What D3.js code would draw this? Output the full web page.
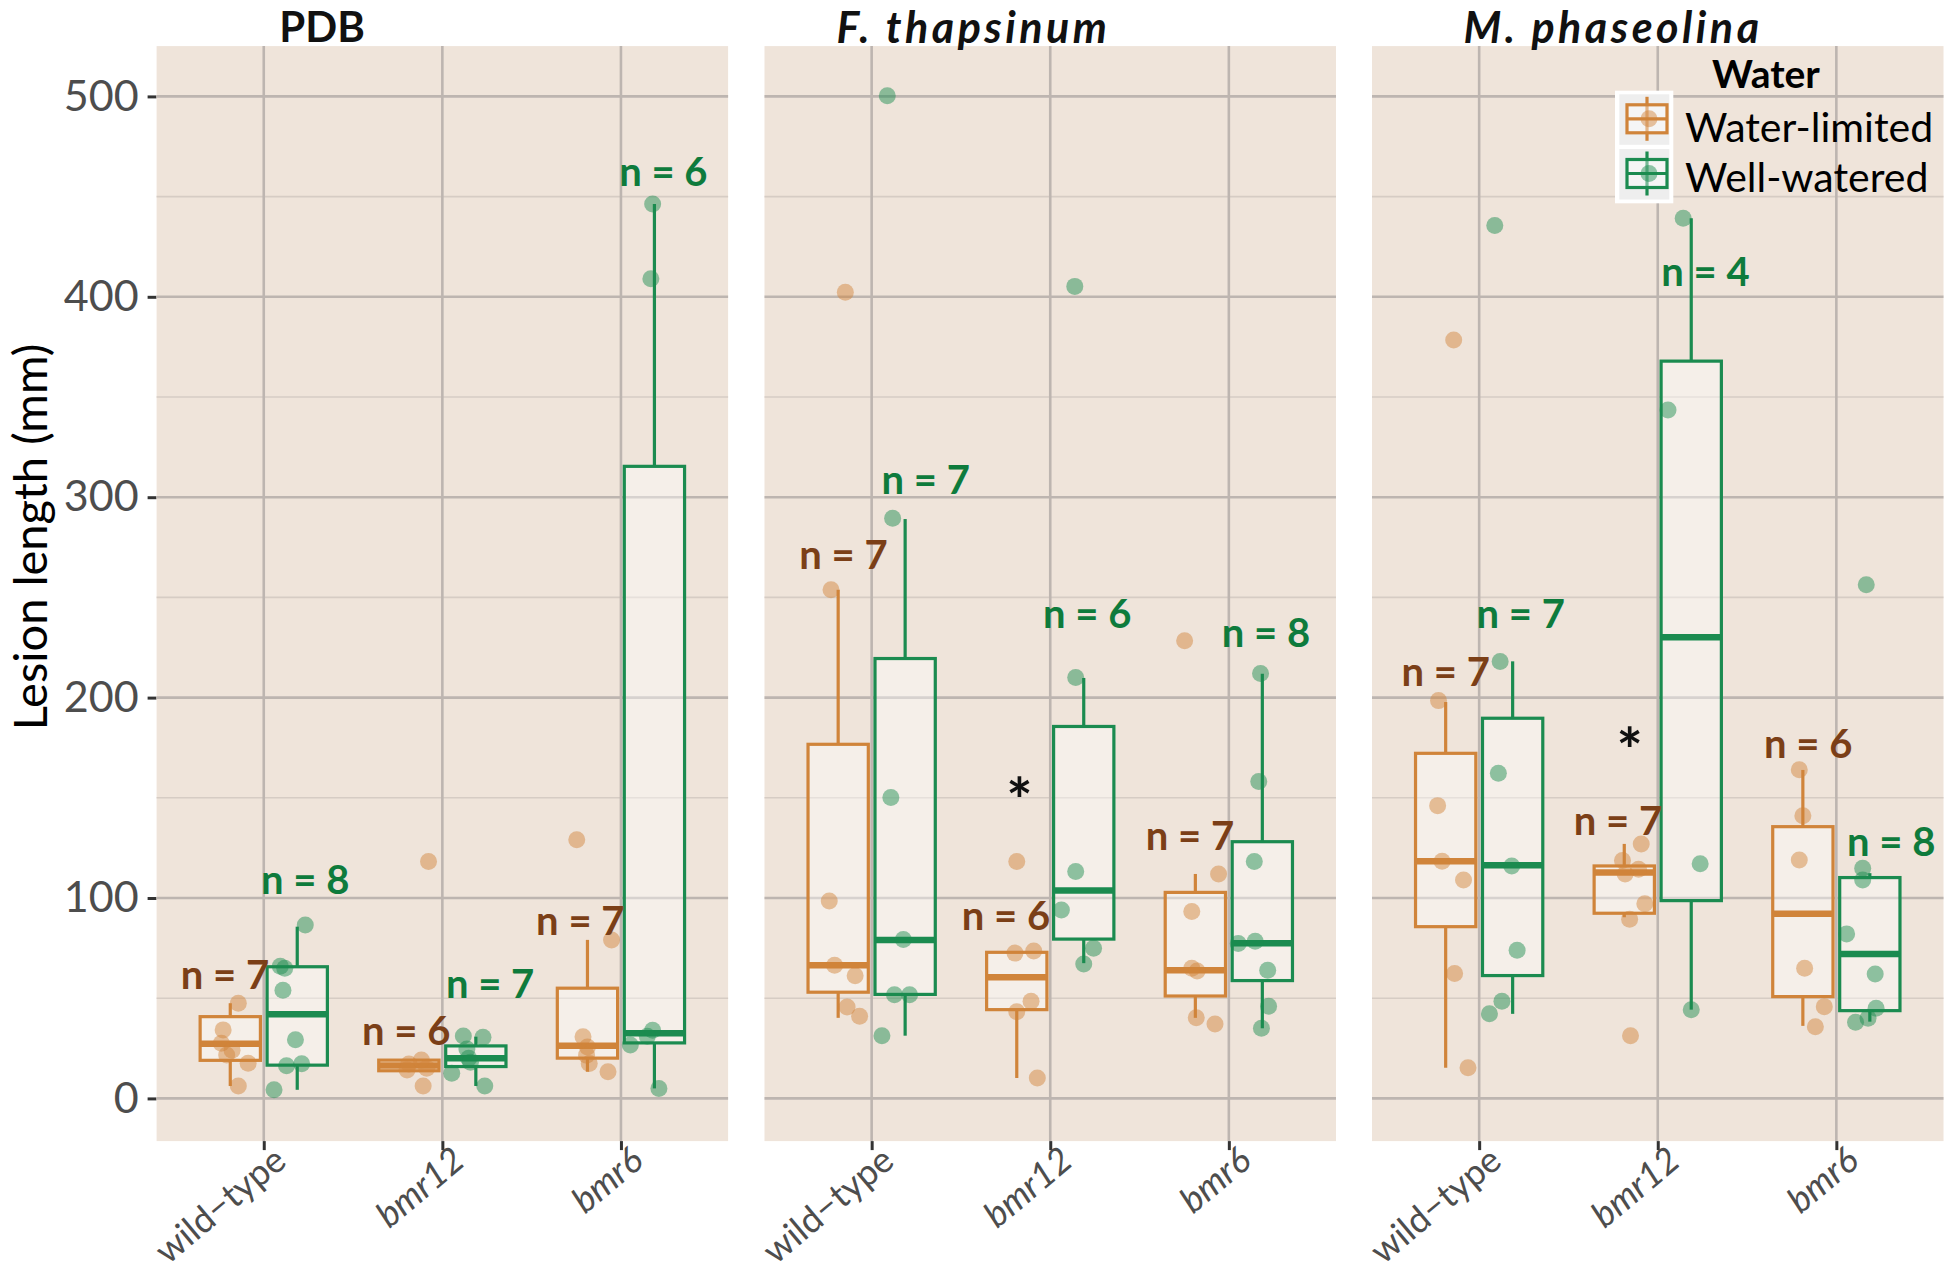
<!DOCTYPE html>
<head>
  <meta charset="utf-8" />
  <script src="https://d3js.org/d3.v7.min.js"></script>
  <style>
    body { margin: 0; background: #fff; }
    text { font-family: Lato, "Open Sans", sans-serif; }
  </style>
</head>
<body>
<script>
// --- data ---
const panels = ["PDB", "F. thapsinum", "M. phaseolina"];
const panelItalic = [false, true, true];
const genotypes = ["wild\u2212type", "bmr12", "bmr6"];
const genoItalic = [false, true, true];
const waterLevels = ["Water-limited", "Well-watered"];
const yTicks = [0, 100, 200, 300, 400, 500];
const yMinor = [50, 150, 250, 350, 450];

// box stats [lower whisker, q1, median, q3, upper whisker], per panel then genotype
const statsLimited = [
  [[6.2, 19.0, 27.3, 40.8, 47.5], [13.8, 13.8, 16.4, 19.1, 19.1], [13.3, 20.1, 26.3, 55.0, 79.1]],
  [[40.2, 53.0, 66.4, 176.7, 253.8], [10.2, 44.3, 60.4, 72.9, 72.9], [40.2, 51.1, 64.0, 102.8, 112.0]],
  [[15.3, 85.7, 118.4, 172.2, 197.8], [90.4, 92.4, 112.7, 116.0, 127.0], [36.2, 50.8, 92.1, 135.6, 163.9]]
];
const statsWatered = [
  [[4.3, 16.6, 42.0, 65.7, 85.7], [6.2, 15.9, 20.0, 26.2, 30.8], [5.0, 27.7, 32.5, 315.4, 446.3]],
  [[31.3, 51.9, 79.1, 219.5, 289.1], [67.5, 79.5, 103.7, 185.6, 209.8], [35.0, 58.8, 77.4, 128.1, 211.9]],
  [[42.2, 61.3, 116.3, 189.7, 218.1], [44.3, 98.7, 230.1, 367.9, 439.2], [38.3, 43.8, 72.1, 110.2, 112.4]]
];

// jittered points [value, jitter in category units]
const pointsLimited = [
  [
    [[47.5, 0.045], [34.2, -0.04], [27.5, -0.05], [24, 0.01], [21.7, -0.02], [17.6, 0.10], [6.2, 0.045]],
    [[118.2, 0.11], [19.2, 0.07], [17.2, 0], [15.1, 0.1], [14.2, -0.01], [6.2, 0.08]],
    [[129.1, -0.06], [79.1, 0.135], [30.8, -0.025], [25.7, 0], [21.6, -0.005], [17.4, 0.01], [13.3, 0.115]]
  ],
  [
    [[402.3, 0.04], [253.8, -0.04], [98.5, -0.05], [66.5, -0.02], [61.2, 0.095], [45.6, 0.05], [41, 0.12]],
    [[118.2, 0], [72.5, -0.01], [73.6, 0.095], [48.5, 0.08], [43.3, 0], [10.2, 0.115]],
    [[228.4, -0.06], [112, 0.13], [93.3, -0.02], [65, -0.02], [63.6, 0.01], [40.2, 0.005], [37.1, 0.11]]
  ],
  [
    [[378.5, 0.045], [198.5, -0.04], [146.1, -0.045], [118.4, -0.02], [109, 0.1], [62.3, 0.05], [15.3, 0.125]],
    [[127, 0.095], [118.7, -0.01], [114.4, 0.08], [112, 0.005], [97.1, 0.115], [89.4, 0.03], [31.3, 0.035]],
    [[164, -0.02], [141.1, 0], [119, -0.02], [65, 0.01], [45.8, 0.12], [35.8, 0.07]]
  ]
];
const pointsWatered = [
  [
    [[86.5, 0.045], [66, -0.095], [65, -0.07], [54, -0.08], [29.3, -0.01], [17.3, 0.025], [16.3, -0.06], [4.3, -0.13]],
    [[31.2, -0.07], [30.5, 0.04], [24.6, -0.05], [20, -0.04], [18, -0.03], [12.6, -0.135], [6.2, 0.05]],
    [[446.3, -0.01], [409, -0.02], [34, -0.01], [31, -0.04], [26.7, -0.135], [5, 0.025]]
  ],
  [
    [[500.3, -0.1], [289.5, -0.07], [150.2, -0.08], [79.3, -0.01], [51.7, -0.06], [51.7, 0.025], [31.3, -0.13]],
    [[405.2, -0.05], [210, -0.045], [113.2, -0.045], [94, -0.125], [74.9, 0.055], [67.1, 0]],
    [[212, -0.01], [158.1, -0.02], [118.2, -0.045], [78.4, -0.04], [77.3, -0.135], [64, 0.03], [46, 0.035], [35, -0.005]]
  ],
  [
    [[435.6, -0.1], [218, -0.07], [162.2, -0.08], [116, -0.005], [73.9, 0.025], [48.5, -0.06], [42.2, -0.13]],
    [[439.2, -0.045], [343.5, -0.13], [117.1, 0.05], [44.3, 0]],
    [[256.3, -0.02], [114.9, -0.04], [109, -0.04], [82.1, -0.13], [62.1, 0.03], [45, 0.035], [40, -0.01], [38, -0.08]]
  ]
];

// sample sizes and where their labels sit [value, jitter]
const nLimited = [[7, 6, 7], [7, 6, 7], [7, 7, 6]];
const nWatered = [[8, 7, 6], [7, 6, 8], [7, 4, 8]];
const nLabelLimited = [
  [[54.6, -0.03], [26.7, -0.015], [81.6, -0.04]],
  [[264, 0.03], [84, -0.06], [124, -0.03]],
  [[205.7, 0], [131.2, -0.035], [169.9, 0.03]]
];
const nLabelWatered = [
  [[101.8, 0.045], [50.1, 0.08], [455.5, 0.05]],
  [[301.7, 0.115], [234.9, 0.02], [225.3, 0.02]],
  [[234.5, 0.045], [405.6, 0.08], [120.9, 0.12]]
];
// significance marks: [panel, genotype, value, jitter]
const asterisks = [[1, 1, 157, 0.015], [2, 1, 181.9, 0.03]];

// --- layout ---
const width = 1946, height = 1270;
const panelLeft = [156.6, 764.5, 1372], panelW = 571.5;
const plotTop = 46.1, plotBottom = 1141.1;
const titleX = [322, 973.5, 1613];

const colStroke = ["#d0843a", "#1b8b50"];
const colText = ["#7b3f17", "#0e7b3c"];
const bg = "#efe4da";

const svg = d3.select("body").append("svg")
  .attr("width", width).attr("height", height);

const y = d3.scaleLinear().domain([-21.3, 525.1]).range([plotBottom, plotTop]);

// y axis (left panel only)
const yAxis = svg.append("g").attr("transform", `translate(${panelLeft[0]},0)`)
  .call(d3.axisLeft(y).tickValues(yTicks).tickSize(9).tickPadding(9));
yAxis.select(".domain").remove();
yAxis.selectAll(".tick line").attr("stroke", "#333").attr("stroke-width", 3);
yAxis.selectAll(".tick text").attr("fill", "#4d4d4d")
  .style("font-size", "43px").style("font-family", "Lato");

svg.append("text")
  .attr("transform", "translate(47,537) rotate(-90)")
  .attr("text-anchor", "middle")
  .style("font-size", "47px").attr("fill", "#000")
  .text("Lesion length (mm)");

panels.forEach((pname, p) => {
  const x = d3.scalePoint().domain(genotypes)
    .range([panelLeft[p], panelLeft[p] + panelW]).padding(0.6);
  const step = x.step();
  const g = svg.append("g");

  g.append("rect").attr("x", panelLeft[p]).attr("y", plotTop)
    .attr("width", panelW).attr("height", plotBottom - plotTop).attr("fill", bg);

  g.selectAll(".minor").data(yMinor).join("line")
    .attr("x1", panelLeft[p]).attr("x2", panelLeft[p] + panelW)
    .attr("y1", d => y(d)).attr("y2", d => y(d))
    .attr("stroke", "#d6ccc4").attr("stroke-width", 1.6);
  g.selectAll(".major").data(yTicks).join("line")
    .attr("x1", panelLeft[p]).attr("x2", panelLeft[p] + panelW)
    .attr("y1", d => y(d)).attr("y2", d => y(d))
    .attr("stroke", "#bdb5b0").attr("stroke-width", 2.6);
  g.selectAll(".vmajor").data(genotypes).join("line")
    .attr("x1", d => x(d)).attr("x2", d => x(d))
    .attr("y1", plotTop).attr("y2", plotBottom)
    .attr("stroke", "#bdb5b0").attr("stroke-width", 2.6);

  // x axis
  const xAxis = svg.append("g").attr("transform", `translate(0,${plotBottom})`)
    .call(d3.axisBottom(x).tickSize(9).tickFormat(""));
  xAxis.select(".domain").remove();
  xAxis.selectAll(".tick line").attr("stroke", "#333").attr("stroke-width", 3);
  genotypes.forEach((gname, i) => {
    svg.append("text")
      .attr("transform", `translate(${x(gname) + 6},${plotBottom + 1}) rotate(-40)`)
      .attr("text-anchor", "end").attr("dominant-baseline", "hanging")
      .style("font-size", "36px").style("font-style", genoItalic[i] ? "italic" : "normal")
      .attr("fill", "#4d4d4d").text(gname);
  });

  // panel title
  svg.append("text").attr("x", titleX[p]).attr("y", panelItalic[p] ? 43 : 42)
    .attr("text-anchor", "middle")
    .style("font-size", panelItalic[p] ? "43px" : "42px").style("font-weight", "bold")
    .style("font-style", panelItalic[p] ? "italic" : "normal")
    .style("letter-spacing", panelItalic[p] ? "3.5px" : "0px")
    .attr("fill", "#111").text(pname);

  const groups = [
    { stats: statsLimited[p], pts: pointsLimited[p], n: nLimited[p], lab: nLabelLimited[p], dodge: -0.1875, w: 0 },
    { stats: statsWatered[p], pts: pointsWatered[p], n: nWatered[p], lab: nLabelWatered[p], dodge: 0.1875, w: 1 }
  ];
  const bw = 0.3375 * step;

  groups.forEach(gr => {
    gr.stats.forEach((s, i) => {
      const cx = x(genotypes[i]) + gr.dodge * step;
      const col = colStroke[gr.w];
      g.append("line").attr("x1", cx).attr("x2", cx).attr("y1", y(s[4])).attr("y2", y(s[3]))
        .attr("stroke", col).attr("stroke-width", 3.2);
      g.append("line").attr("x1", cx).attr("x2", cx).attr("y1", y(s[1])).attr("y2", y(s[0]))
        .attr("stroke", col).attr("stroke-width", 3.2);
      g.append("rect").attr("x", cx - bw / 2).attr("y", y(s[3]))
        .attr("width", bw).attr("height", Math.max(0.5, y(s[1]) - y(s[3])))
        .attr("fill", "#fff").attr("fill-opacity", 0.4)
        .attr("stroke", col).attr("stroke-width", 3.2);
      g.append("line").attr("x1", cx - bw / 2).attr("x2", cx + bw / 2)
        .attr("y1", y(s[2])).attr("y2", y(s[2]))
        .attr("stroke", col).attr("stroke-width", 6.5);
    });
  });

  groups.forEach(gr => {
    gr.pts.forEach((pts, i) => {
      const cx = x(genotypes[i]) + gr.dodge * step;
      g.selectAll(null).data(pts).join("circle")
        .attr("cx", d => cx + d[1] * step).attr("cy", d => y(d[0]))
        .attr("r", 8.5).attr("fill", colStroke[gr.w]).attr("fill-opacity", 0.48);
    });
  });

  groups.forEach(gr => {
    gr.lab.forEach((l, i) => {
      const cx = x(genotypes[i]) + (gr.dodge + l[1]) * step;
      g.append("text").attr("x", cx).attr("y", y(l[0]))
        .attr("text-anchor", "middle")
        .style("font-size", "40px").style("font-weight", "bold")
        .attr("fill", colText[gr.w]).text("n = " + gr.n[i]);
    });
  });

  asterisks.filter(a => a[0] === p).forEach(a => {
    const cx = x(genotypes[a[1]]) + (-0.1875 + a[3]) * step;
    g.append("text").attr("x", cx).attr("y", y(a[2]))
      .attr("text-anchor", "middle").attr("dominant-baseline", "central")
      .attr("dy", "0.25em")
      .style("font-size", "62px").style("font-weight", "bold")
      .attr("fill", "#111").text("*");
  });
});

// legend
const leg = svg.append("g");
leg.append("text").attr("x", 1766).attr("y", 88.3).attr("text-anchor", "middle")
  .style("font-size", "39px").style("font-weight", "bold").attr("fill", "#000").text("Water");
leg.append("rect").attr("x", 1615).attr("y", 90.7).attr("width", 58.3).attr("height", 112.6)
  .attr("fill", "#fff");
waterLevels.forEach((w, k) => {
  const ky = 94.3 + k * 54.7;
  const cy = ky + 24.5;
  leg.append("rect").attr("x", 1619.3).attr("y", ky).attr("width", 50).attr("height", 50.5)
    .attr("fill", "#eeeeee");
  leg.append("line").attr("x1", 1647).attr("x2", 1647).attr("y1", cy - 22).attr("y2", cy + 22)
    .attr("stroke", colStroke[k]).attr("stroke-width", 3.2);
  leg.append("rect").attr("x", 1627).attr("y", cy - 14).attr("width", 40).attr("height", 28)
    .attr("fill", "#fff").attr("fill-opacity", 0.4)
    .attr("stroke", colStroke[k]).attr("stroke-width", 3.2);
  leg.append("line").attr("x1", 1627).attr("x2", 1667).attr("y1", cy).attr("y2", cy)
    .attr("stroke", colStroke[k]).attr("stroke-width", 3.2);
  leg.append("circle").attr("cx", 1649).attr("cy", cy).attr("r", 8.5)
    .attr("fill", colStroke[k]).attr("fill-opacity", 0.48);
  leg.append("text").attr("x", 1685).attr("y", 141.7 + k * 50)
    .style("font-size", "41px").attr("fill", "#000").text(w);
});
</script>
</body>
